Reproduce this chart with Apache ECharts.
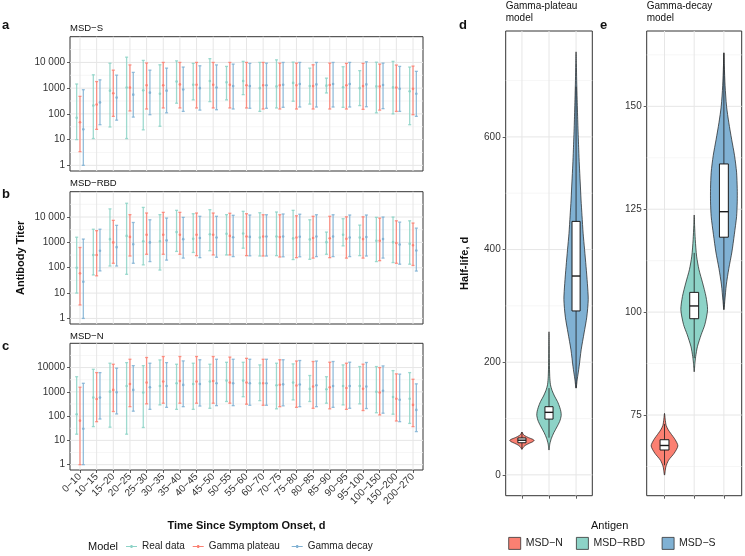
<!DOCTYPE html>
<html><head><meta charset="utf-8">
<script src="https://cdn.jsdelivr.net/npm/echarts@6/dist/echarts.min.js"></script>
<style>html,body{margin:0;padding:0;background:#fff}#c{width:745px;height:556px}</style>
</head><body><div id="c"></div>
<script>
// ---------------- data ----------------
const categories = ['0\u221210','10\u221215','15\u221220','20\u221225','25\u221230','30\u221235','35\u221240','40\u221245','45\u221250','50\u221255','55\u221260','60\u221270','70\u221275','75\u221280','80\u221285','85\u221290','90\u221295','95\u2212100','100\u2212150','150\u2212200','200\u2212270'];
const models = ['Real data', 'Gamma plateau', 'Gamma decay'];
const panelTitles = ['MSD\u2212S', 'MSD\u2212RBD', 'MSD\u2212N'];
const yTickValues = [1, 10, 100, 1000, 10000];
const yTickLabelsAB = ['1', '10', '100', '1000', '10 000'];
const yTickLabelsC = ['1', '10', '100', '1000', '10000'];

// Panel a: MSD-S
const sRealLow  = [10, 11, 31, 11, 24, 33, 260, 350, 300, 350, 560, 125, 170, 310, 240, 650, 180, 210, 110, 100, 38];
const sRealMed  = [70, 210, 800, 1060, 820, 610, 1800, 1350, 1900, 1700, 1900, 1000, 1170, 1600, 1200, 1250, 1080, 1000, 1170, 1070, 760];
const sRealHigh = [1450, 3300, 9300, 16000, 12000, 8100, 11500, 9200, 14000, 7000, 11000, 10000, 12600, 10300, 6000, 2450, 6800, 4800, 10200, 11000, 6600];
const sPlatLow  = [3.4, 25, 80, 130, 155, 170, 170, 170, 170, 170, 170, 155, 155, 155, 155, 155, 155, 150, 140, 125, 93];
const sPlatMed  = [47, 230, 630, 1050, 1300, 1300, 1400, 1350, 1350, 1350, 1300, 1300, 1300, 1300, 1200, 1320, 1300, 1200, 1170, 1050, 940];
const sPlatHigh = [480, 1800, 5000, 8000, 9500, 10000, 10000, 10000, 10000, 10000, 10000, 10000, 9400, 9400, 8100, 9400, 9200, 9200, 8600, 7900, 7200];
const sDecLow   = [1, 38, 57, 75, 93, 110, 125, 140, 145, 155, 165, 165, 180, 185, 185, 185, 185, 190, 160, 125, 80];
const sDecMed   = [25, 280, 430, 560, 670, 800, 890, 1000, 1060, 1200, 1200, 1300, 1350, 1450, 1400, 1450, 1450, 1400, 1320, 950, 610];
const sDecHigh  = [870, 2100, 3200, 4100, 5000, 6000, 6600, 7400, 8000, 8600, 9200, 9400, 10000, 10000, 10000, 10000, 10000, 10600, 9400, 7000, 4500];

// Panel b: MSD-RBD
const rRealLow  = [10, 52, 117, 55, 130, 81, 440, 400, 470, 320, 590, 290, 300, 210, 215, 340, 730, 300, 175, 160, 138];
const rRealMed  = [100, 320, 1340, 1800, 1100, 1100, 2550, 1380, 2100, 2200, 2250, 1560, 1700, 1440, 1310, 1020, 2000, 1560, 1150, 1020, 880];
const rRealHigh = [1600, 3300, 21000, 35000, 24000, 12400, 18400, 13500, 19500, 12400, 16800, 14800, 15800, 18400, 7800, 2550, 8600, 4800, 9700, 10000, 7100];
const rPlatLow  = [3.4, 48, 150, 290, 340, 340, 340, 300, 320, 320, 300, 290, 265, 250, 240, 250, 240, 240, 190, 150, 123];
const rPlatMed  = [60, 320, 1000, 1650, 2000, 2000, 2000, 2000, 2000, 1800, 1700, 1700, 1620, 1550, 1480, 1450, 1380, 1350, 1150, 940, 770];
const rPlatHigh = [630, 2900, 7400, 12400, 14400, 15300, 15300, 14400, 14400, 14100, 13500, 12300, 12300, 11200, 10700, 10700, 10200, 10200, 9100, 7100, 5800];
const rDecLow   = [1, 75, 117, 150, 175, 200, 240, 250, 260, 275, 295, 290, 270, 270, 275, 275, 275, 290, 240, 138, 74];
const rDecMed   = [28, 470, 650, 850, 1000, 1200, 1340, 1480, 1560, 1600, 1650, 1700, 1700, 1660, 1700, 1700, 1550, 1620, 1350, 830, 480];
const rDecHigh  = [1350, 3300, 4700, 6100, 7800, 9100, 9700, 10700, 10700, 11700, 12000, 12300, 13200, 12900, 12300, 12300, 12000, 12000, 10000, 6300, 3650];

// Panel c: MSD-N
const nRealLow  = [18, 37, 35, 18, 34, 290, 190, 190, 210, 400, 630, 435, 200, 465, 400, 340, 290, 320, 138, 120, 50];
const nRealMed  = [120, 580, 1020, 1750, 940, 1750, 2250, 2100, 2650, 2900, 2900, 2250, 1880, 2400, 1320, 1280, 1750, 1750, 1000, 610, 520];
const nRealHigh = [4200, 8500, 15100, 16000, 12000, 20700, 13700, 15100, 13700, 16500, 16500, 12900, 15100, 14200, 4700, 4200, 12900, 11000, 11000, 7500, 6200];
const nPlatLow  = [1, 59, 155, 245, 320, 340, 340, 340, 340, 340, 310, 280, 245, 230, 210, 200, 190, 170, 112, 63, 37];
const nPlatMed  = [65, 510, 1200, 2100, 2400, 2650, 2800, 2650, 2800, 2400, 2400, 2250, 1950, 1820, 1660, 1550, 1450, 1350, 940, 520, 290];
const nPlatHigh = [1550, 6200, 13700, 22000, 26000, 28500, 28500, 28500, 28500, 27000, 24000, 22000, 21000, 18600, 17800, 16600, 15100, 13800, 10000, 5500, 3300];
const nDecLow   = [1, 76, 123, 160, 190, 230, 245, 260, 270, 270, 280, 280, 265, 245, 245, 230, 210, 205, 132, 59, 23];
const nDecMed   = [30, 580, 960, 1200, 1550, 1750, 1930, 2100, 2250, 2250, 2250, 2250, 2040, 2000, 1860, 1740, 1740, 1660, 1100, 470, 180];
const nDecHigh  = [2250, 6200, 9400, 12000, 15100, 16000, 18800, 21000, 22000, 22000, 22000, 22000, 21000, 19500, 18600, 17800, 16600, 16200, 11700, 5350, 2130];

// Panels d, e: half-life distributions
const antigens = ['MSD\u2212N', 'MSD\u2212RBD', 'MSD\u2212S'];
const plateauTicks = [0, 200, 400, 600];
const decayTicks = [75, 100, 125, 150];
// box stats
const plateauQ1 = [57, 99, 291];
const plateauMedian = [61.5, 111, 353];
const plateauQ3 = [65.5, 121, 450];
const plateauWhiskerLow = [46, 66, 154];
const plateauWhiskerHigh = [76, 154, 689];
const decayQ1 = [66.5, 98.4, 118.2];
const decayMedian = [67.6, 101.5, 124.4];
const decayQ3 = [69, 104.8, 136];
const decayWhiskerLow = [62.8, 88.8, 100.6];
const decayWhiskerHigh = [72.8, 114.4, 163];
// violin density profiles: [half-life, relative density]
const plateauDensityN = [[45,0],[48,0.08],[52,0.25],[56,0.6],[59,0.9],[61,1],[63,0.9],[66,0.55],[70,0.2],[73,0.08],[76,0]];
const plateauDensityRBD = [[44,0],[55,0.07],[65,0.2],[75,0.4],[85,0.65],[95,0.88],[105,1],[112,0.98],[120,0.88],[130,0.7],[140,0.45],[150,0.25],[160,0.12],[175,0.06],[200,0.03],[230,0.015],[254,0]];
const plateauDensityS = [[154,0],[170,0.1],[192,0.25],[222,0.42],[252,0.66],[280,0.88],[311,1],[340,0.93],[370,0.82],[400,0.7],[429,0.58],[460,0.49],[488,0.41],[520,0.34],[550,0.27],[577,0.22],[620,0.15],[666,0.09],[700,0.05],[730,0.025],[751,0]];
const decayDensityN = [[60.4,0],[62.4,0.1],[64,0.3],[65.7,0.72],[67.5,1],[69,0.8],[70.6,0.45],[71.4,0.28],[72.5,0.12],[74,0.05],[75.4,0]];
const decayDensityRBD = [[85.5,0],[87.5,0.05],[89.2,0.11],[91.6,0.24],[94.5,0.52],[97,0.8],[100.6,1],[103.8,0.88],[107.1,0.63],[110.3,0.36],[113.6,0.18],[117.6,0.08],[121,0.03],[123.6,0]];
const decayDensityS = [[100.6,0],[102.8,0.07],[106.6,0.18],[110.6,0.37],[114.6,0.6],[118.8,0.78],[123.2,0.95],[126.8,1],[130,1],[134,0.95],[138,0.8],[142,0.58],[146,0.37],[150,0.2],[155,0.09],[160,0.03],[163,0]];

// ---------------- styling ----------------
const FONT = 'Liberation Sans, Arial, Helvetica, sans-serif';
const modelColors = ['#8DD3C7', '#FB8072', '#80B1D3'];
const antigenColors = ['#FB8072', '#8DD3C7', '#80B1D3'];
const dodge = [-0.2, 0, 0.2];
const lineIcon = 'path://M0,3L11,3L11,4L0,4Z M4.5,2L6.5,2L6.5,5L4.5,5Z';

const grids = [
  {left: 70, top: 36.7, width: 353, height: 134.3},
  {left: 70, top: 191.7, width: 353, height: 132.3},
  {left: 70, top: 343.3, width: 353, height: 126.7},
  {left: 505.7, top: 31, width: 86.6, height: 464.7},
  {left: 646.7, top: 31, width: 95, height: 464.7}
].map(g => Object.assign({show: true, borderColor: '#333', borderWidth: 1, backgroundColor: '#fff', outerBoundsMode: 'none', containLabel: false}, g));

const catIdx = categories.map((_, i) => i);
const logTicks = yTickValues.map(v => Math.log10(v));
const logMin = -0.22, logMax = 5.0;

function tickLabel(labels) {
  return v => { const k = logTicks.findIndex(t => Math.abs(t - v) < 1e-6); return k >= 0 ? labels[k] : ''; };
}
const tickStyle = {length: 3, lineStyle: {color: '#333', width: 0.8}};
const noLine = {show: false, onZero: false};
const LABEL_GAP = 5;

const xAxes = [], yAxes = [];
for (let p = 0; p < 3; p++) {
  xAxes.push({
    type: 'value', gridIndex: p, min: -0.6, max: 20.6, position: 'bottom',
    axisLine: noLine, splitLine: {show: false},
    axisTick: Object.assign({show: p === 2, customValues: catIdx}, tickStyle),
    axisLabel: {show: p === 2, customValues: catIdx, rotate: 45, margin: LABEL_GAP, fontSize: 10, color: '#333', fontFamily: FONT,
      formatter: v => categories[Math.round(v)]},
    name: p === 2 ? 'Time Since Symptom Onset, d' : '', nameLocation: 'middle', nameGap: 50,
    nameTextStyle: {fontWeight: 'bold', fontSize: 11, color: '#111', fontFamily: FONT}
  });
  yAxes.push({
    type: 'value', gridIndex: p, min: logMin, max: logMax, position: 'left',
    axisLine: noLine, splitLine: {show: false},
    axisTick: Object.assign({customValues: logTicks}, tickStyle),
    axisLabel: {customValues: logTicks, margin: LABEL_GAP, fontSize: 10, color: '#333', fontFamily: FONT,
      formatter: tickLabel(p === 2 ? yTickLabelsC : yTickLabelsAB)},
    name: p === 1 ? 'Antibody Titer' : '', nameLocation: 'middle', nameGap: 44,
    nameTextStyle: {fontWeight: 'bold', fontSize: 11, color: '#111', fontFamily: FONT}
  });
}
for (let p = 3; p < 5; p++) {
  xAxes.push({
    type: 'value', gridIndex: p, min: -0.6, max: 2.6, position: 'bottom',
    axisLine: noLine, splitLine: {show: false},
    axisTick: Object.assign({show: true, customValues: [0, 1, 2]}, tickStyle),
    axisLabel: {show: false}
  });
}
yAxes.push({
  type: 'value', gridIndex: 3, min: -37, max: 788, position: 'left',
  axisLine: noLine, splitLine: {show: false},
  axisTick: Object.assign({customValues: plateauTicks}, tickStyle),
  axisLabel: {customValues: plateauTicks, margin: LABEL_GAP, fontSize: 10, color: '#333', fontFamily: FONT},
  name: 'Half-life, d', nameLocation: 'middle', nameGap: 35,
  nameTextStyle: {fontWeight: 'bold', fontSize: 11, color: '#111', fontFamily: FONT}
});
yAxes.push({
  type: 'value', gridIndex: 4, min: 55.4, max: 168.3, position: 'left',
  axisLine: noLine, splitLine: {show: false},
  axisTick: Object.assign({customValues: decayTicks}, tickStyle),
  axisLabel: {customValues: decayTicks, margin: LABEL_GAP, fontSize: 10, color: '#333', fontFamily: FONT}
});

// ---------------- series ----------------
const series = [];

function gridLineSeries(p, rows) {
  return {
    type: 'custom', name: 'grid' + p, xAxisIndex: p, yAxisIndex: p, silent: true, z: 1,
    data: rows, encode: {x: 0, y: 1},
    renderItem: function (params, api) {
      const cs = params.coordSys;
      const pt = api.coord([api.value(0), api.value(1)]);
      const minor = api.value(3) === 1;
      const style = {stroke: minor ? '#F2F2F2' : '#E6E6E6', lineWidth: minor ? 0.7 : 1};
      if (api.value(2) === 0) {
        return {type: 'line', shape: {x1: cs.x, y1: pt[1], x2: cs.x + cs.width, y2: pt[1]}, style};
      }
      return {type: 'line', shape: {x1: pt[0], y1: cs.y, x2: pt[0], y2: cs.y + cs.height}, style};
    }
  };
}
for (let p = 0; p < 3; p++) {
  const rows = [];
  logTicks.forEach(t => rows.push([0, t, 0, 0]));
  logTicks.forEach(t => { if (t + 0.5 < logMax) rows.push([0, t + 0.5, 0, 1]); });
  catIdx.forEach(i => rows.push([i, 0, 1, 0]));
  series.push(gridLineSeries(p, rows));
}
function halfSteps(ticks, lo, hi) {
  const step = ticks[1] - ticks[0];
  const out = [];
  for (let v = ticks[0] - step / 2; v < hi; v += step) if (v > lo) out.push(v);
  return out;
}
[[3, plateauTicks, -37, 788], [4, decayTicks, 55.4, 168.3]].forEach(([p, ticks, lo, hi]) => {
  const rows = [];
  ticks.forEach(t => rows.push([0, t, 0, 0]));
  halfSteps(ticks, lo, hi).forEach(t => rows.push([0, t, 0, 1]));
  [0, 1, 2].forEach(i => rows.push([i, ticks[0], 1, 0]));
  series.push(gridLineSeries(p, rows));
});

// error bars
const panelData = [
  [[sRealLow, sRealMed, sRealHigh], [sPlatLow, sPlatMed, sPlatHigh], [sDecLow, sDecMed, sDecHigh]],
  [[rRealLow, rRealMed, rRealHigh], [rPlatLow, rPlatMed, rPlatHigh], [rDecLow, rDecMed, rDecHigh]],
  [[nRealLow, nRealMed, nRealHigh], [nPlatLow, nPlatMed, nPlatHigh], [nDecLow, nDecMed, nDecHigh]]
];
function errorBarRenderer(offset, color) {
  return function (params, api) {
    const i = api.value(0);
    const unit = api.size([1, 0])[0];
    const xc = api.coord([i, api.value(2)])[0] + offset * unit;
    const yLo = api.coord([i, api.value(1)])[1];
    const yMed = api.coord([i, api.value(2)])[1];
    const yHi = api.coord([i, api.value(3)])[1];
    const cap = 0.09 * unit;
    const style = {stroke: color, lineWidth: 1.3, opacity: 0.85};
    return {type: 'group', children: [
      {type: 'line', shape: {x1: xc, y1: yLo, x2: xc, y2: yHi}, style},
      {type: 'line', shape: {x1: xc - cap, y1: yHi, x2: xc + cap, y2: yHi}, style},
      {type: 'line', shape: {x1: xc - cap, y1: yLo, x2: xc + cap, y2: yLo}, style},
      {type: 'circle', shape: {cx: xc, cy: yMed, r: 1.3}, style: {fill: color, opacity: 0.95}}
    ]};
  };
}
for (let p = 0; p < 3; p++) {
  for (let m = 0; m < 3; m++) {
    const [lo, med, hi] = panelData[p][m];
    series.push({
      type: 'custom', name: models[m], xAxisIndex: p, yAxisIndex: p, z: 3,
      itemStyle: {color: modelColors[m]},
      data: catIdx.map(i => [i, Math.log10(lo[i]), Math.log10(med[i]), Math.log10(hi[i])]),
      encode: {x: 0, y: [1, 2, 3]},
      renderItem: errorBarRenderer(dodge[m], modelColors[m])
    });
  }
}

// violins
function violinRenderer(profile, color) {
  return function (params, api) {
    const i = api.value(0);
    const unit = api.size([1, 0])[0];
    const xc = api.coord([i, api.value(2)])[0];
    const y = v => api.coord([i, v])[1];
    const right = profile.map(p => [xc + p[1] * 0.45 * unit, y(p[0])]);
    const left = profile.slice(1, -1).reverse().map(p => [xc - p[1] * 0.45 * unit, y(p[0])]);
    const bw = 0.15 * unit;
    const ink = '#1a1a1a';
    return {type: 'group', children: [
      {type: 'polygon', shape: {points: right.concat(left), smooth: 0.25}, style: {fill: color, stroke: ink, lineWidth: 0.7}},
      {type: 'line', shape: {x1: xc, y1: y(api.value(4)), x2: xc, y2: y(api.value(5))}, style: {stroke: ink, lineWidth: 0.8}},
      {type: 'rect', shape: {x: xc - bw, y: y(api.value(3)), width: 2 * bw, height: y(api.value(1)) - y(api.value(3))}, style: {fill: '#fff', stroke: ink, lineWidth: 1}},
      {type: 'line', shape: {x1: xc - bw, y1: y(api.value(2)), x2: xc + bw, y2: y(api.value(2))}, style: {stroke: ink, lineWidth: 1.4}}
    ]};
  };
}
const plateauProfiles = [plateauDensityN, plateauDensityRBD, plateauDensityS];
const decayProfiles = [decayDensityN, decayDensityRBD, decayDensityS];
for (let a = 0; a < 3; a++) {
  series.push({
    type: 'custom', name: antigens[a], xAxisIndex: 3, yAxisIndex: 3, z: 3,
    itemStyle: {color: antigenColors[a]},
    data: [[a, plateauQ1[a], plateauMedian[a], plateauQ3[a], plateauWhiskerLow[a], plateauWhiskerHigh[a]]],
    encode: {x: 0, y: [1, 2, 3, 4, 5]},
    renderItem: violinRenderer(plateauProfiles[a], antigenColors[a])
  });
  series.push({
    type: 'custom', name: antigens[a], xAxisIndex: 4, yAxisIndex: 4, z: 3,
    itemStyle: {color: antigenColors[a]},
    data: [[a, decayQ1[a], decayMedian[a], decayQ3[a], decayWhiskerLow[a], decayWhiskerHigh[a]]],
    encode: {x: 0, y: [1, 2, 3, 4, 5]},
    renderItem: violinRenderer(decayProfiles[a], antigenColors[a])
  });
}

// ---------------- titles & legends ----------------
function txt(text, left, top, size, bold) {
  return {text, left, top, padding: 0,
    textStyle: {fontSize: size, fontWeight: bold ? 'bold' : 'normal', color: '#111', fontFamily: FONT, lineHeight: size <= 10 ? 12 : size + 1}};
}
const titles = [
  txt('a', 2, 18, 13, true), txt('b', 2, 187, 13, true), txt('c', 2, 339, 13, true),
  txt('d', 459, 18, 13, true), txt('e', 600, 18, 13, true),
  txt(panelTitles[0], 70, 22, 9.5, false), txt(panelTitles[1], 70, 177, 9.5, false), txt(panelTitles[2], 70, 330, 9.5, false),
  txt('Gamma-plateau\nmodel', 505.7, 0, 10, false), txt('Gamma-decay\nmodel', 646.7, 0, 10, false),
  txt('Model', 88, 541, 11, false), txt('Antigen', 591, 520, 11, false)
];

const legendPos = [126, 192.7, 291.7];
const legends = models.map((m, k) => ({
  data: [{name: m, icon: lineIcon}], left: legendPos[k], top: 541.5, padding: 0,
  itemWidth: 11, itemHeight: 3, selectedMode: false,
  textStyle: {fontSize: 10, color: '#222', fontFamily: FONT}
}));
const antigenLegendPos = [508.3, 576, 661.7];
antigens.forEach((a, k) => legends.push({
  data: [{name: a, icon: 'rect'}], left: antigenLegendPos[k], top: 537, padding: 0,
  itemWidth: 12, itemHeight: 12, selectedMode: false,
  itemStyle: {borderColor: '#333', borderWidth: 0.8},
  textStyle: {fontSize: 10.5, color: '#222', fontFamily: FONT}
}));

const chart = echarts.init(document.getElementById('c'), null, {renderer: 'canvas'});
chart.setOption({
  animation: false,
  backgroundColor: '#fff',
  textStyle: {fontFamily: FONT},
  title: titles,
  legend: legends,
  grid: grids,
  xAxis: xAxes,
  yAxis: yAxes,
  series: series
});
</script>
</body></html>
